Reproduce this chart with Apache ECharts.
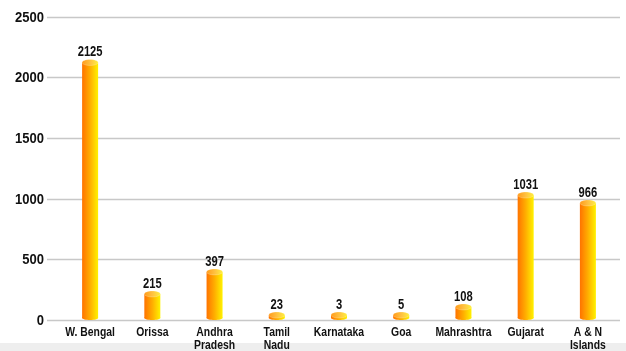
<!DOCTYPE html>
<html><head><meta charset="utf-8">
<script src="https://cdn.jsdelivr.net/npm/echarts@6/dist/echarts.min.js"></script>
<style>html,body{margin:0;padding:0;background:#fff}#c{width:626px;height:351px}</style>
</head><body><div id="c"></div>
<script>
const categories = ['W. Bengal','Orissa','Andhra\nPradesh','Tamil\nNadu','Karnataka','Goa','Mahrashtra','Gujarat','A & N\nIslands'];
const values = [2125, 215, 397, 23, 3, 5, 108, 1031, 966];
const yTicks = [0, 500, 1000, 1500, 2000, 2500];

const FONT = '"Liberation Sans", Arial, sans-serif';
const chart = echarts.init(document.getElementById('c'));
const grad = new echarts.graphic.LinearGradient(0,0,1,0,[
  {offset:0,color:'#ff7300'},{offset:0.5,color:'#ffae00'},{offset:1,color:'#fff200'}]);
const capGrad = new echarts.graphic.LinearGradient(0,0,1,0,[
  {offset:0,color:'#ff9a1a'},{offset:0.5,color:'#ffc040'},{offset:1,color:'#fff040'}]);

function renderBar(params, api){
  const top = api.coord([api.value(0), api.value(1)]);
  const base = api.coord([api.value(0), 0]);
  const w = 16, ry = 3, minH = 5;
  const x0 = top[0] - w/2;
  const ty = Math.min(top[1], base[1] - minH);
  const by = base[1] - 2;
  return {type:'group', children:[
    {type:'rect', shape:{x:x0, y:ty, width:w, height:by-ty}, style:{fill:grad}},
    {type:'ellipse', shape:{cx:top[0], cy:by, rx:w/2, ry:ry-1}, style:{fill:grad}},
    {type:'ellipse', shape:{cx:top[0], cy:ty, rx:w/2, ry:ry}, style:{fill:capGrad, stroke:'rgba(255,255,255,0.35)', lineWidth:0.6}},
    {type:'text', x:top[0], y:ty-3, scaleX:0.8,
     style:{text:String(api.value(1)), textAlign:'center', textVerticalAlign:'bottom', font:'bold 14px '+FONT, fill:'#111'}}
  ]};
}
function renderXLabel(params, api){
  const p = api.coord([api.value(0), 0]);
  return {type:'text', x:p[0], y:p[1]+6, scaleX:0.8,
    style:{text:categories[api.value(0)], textAlign:'center', textVerticalAlign:'top', font:'bold 13px '+FONT, lineHeight:13, fill:'#111'}};
}
function renderYLabel(params, api){
  const p = api.coord([0, api.value(1)]);
  return {type:'text', x:p[0]-3, y:p[1]+1, scaleX:0.93,
    style:{text:String(api.value(1)), textAlign:'right', textVerticalAlign:'middle', font:'bold 14px '+FONT, fill:'#111'}};
}

chart.setOption({
  animation:false,
  graphic:[{type:'rect', shape:{x:0,y:343,width:626,height:8}, style:{fill:'#eeeeee'}, z:-1}],
  grid:[
    {left:47, right:6, top:17, bottom:31},
    {left:59, right:7, top:17, bottom:31}
  ],
  xAxis:[
    {gridIndex:0, type:'value', show:false, min:0, max:1},
    {gridIndex:1, type:'category', data:categories, axisLine:{show:false}, axisTick:{show:false}, axisLabel:{show:false}}
  ],
  yAxis:[
    {gridIndex:0, type:'value', min:0, max:2500, interval:500,
     axisLine:{show:false}, axisTick:{show:false}, axisLabel:{show:false},
     splitLine:{lineStyle:{color:'#c8c8c8', width:1.3}}},
    {gridIndex:1, type:'value', min:0, max:2500, interval:500, show:false, splitLine:{show:false}}
  ],
  series:[
    {type:'custom', xAxisIndex:0, yAxisIndex:0, renderItem:renderYLabel, clip:false,
     data: yTicks.map(v=>[0, v]), encode:{x:0, y:1}, silent:true},
    {type:'custom', xAxisIndex:1, yAxisIndex:1, renderItem:renderXLabel, clip:false,
     data: categories.map((c,i)=>[i, 0]), encode:{x:0, y:1}, silent:true},
    {type:'custom', xAxisIndex:1, yAxisIndex:1, renderItem:renderBar, clip:false,
     data: values.map((v,i)=>[i, v]), encode:{x:0, y:1}}
  ]
});
</script></body></html>
